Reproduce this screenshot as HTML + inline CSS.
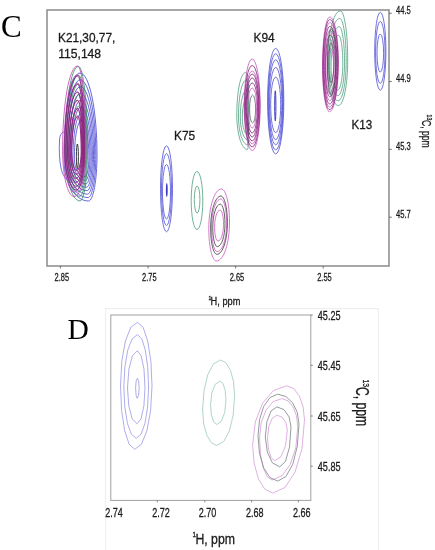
<!DOCTYPE html>
<html><head><meta charset="utf-8"><style>
html,body{margin:0;padding:0;background:#fff;}
body{width:435px;height:550px;overflow:hidden;font-family:"Liberation Sans",sans-serif;}
svg{display:block;will-change:transform;}
</style></head><body>
<svg width="435" height="550" viewBox="0 0 435 550">
<rect width="435" height="550" fill="#fff"/>
<rect x="47" y="10" width="342" height="256" fill="none" stroke="#8a8a8a" stroke-width="1.5"/>
<line x1="60.4" y1="266" x2="60.4" y2="268.5" stroke="#555" stroke-width="0.8"/>
<line x1="148.1" y1="266" x2="148.1" y2="268.5" stroke="#555" stroke-width="0.8"/>
<line x1="235.6" y1="266" x2="235.6" y2="268.5" stroke="#555" stroke-width="0.8"/>
<line x1="323.2" y1="266" x2="323.2" y2="268.5" stroke="#555" stroke-width="0.8"/>
<line x1="389" y1="13.3" x2="391.8" y2="13.3" stroke="#555" stroke-width="0.8"/>
<line x1="389" y1="81.55" x2="391.8" y2="81.55" stroke="#555" stroke-width="0.8"/>
<line x1="389" y1="149.3" x2="391.8" y2="149.3" stroke="#555" stroke-width="0.8"/>
<line x1="389" y1="217.2" x2="391.8" y2="217.2" stroke="#555" stroke-width="0.8"/>
<rect x="105.5" y="308.6" width="273" height="250" fill="none" stroke="#efefef" stroke-width="1.2"/>
<rect x="110.8" y="315" width="200" height="185.4" fill="none" stroke="#a0a0a0" stroke-width="1.0"/>
<line x1="157.3" y1="500.4" x2="157.3" y2="502.3" stroke="#666" stroke-width="0.8"/>
<line x1="204.8" y1="500.4" x2="204.8" y2="502.3" stroke="#666" stroke-width="0.8"/>
<line x1="251.6" y1="500.4" x2="251.6" y2="502.3" stroke="#666" stroke-width="0.8"/>
<line x1="298.4" y1="500.4" x2="298.4" y2="502.3" stroke="#666" stroke-width="0.8"/>
<line x1="310.8" y1="315" x2="312.8" y2="315" stroke="#666" stroke-width="0.8"/>
<line x1="310.8" y1="365.3" x2="312.8" y2="365.3" stroke="#666" stroke-width="0.8"/>
<line x1="310.8" y1="416" x2="312.8" y2="416" stroke="#666" stroke-width="0.8"/>
<line x1="310.8" y1="466.2" x2="312.8" y2="466.2" stroke="#666" stroke-width="0.8"/>
<g fill="none">
<path d="M160.50 188.80A6.00 43.00 0 0 1 172.50 188.80A6.00 43.00 0 0 1 160.50 188.80Z" stroke="#4d4dd6" stroke-width="0.8"/>
<path d="M161.50 189.55A5.00 35.95 0 0 1 171.50 189.55A5.00 35.95 0 0 1 161.50 189.55Z" stroke="#4d4dd6" stroke-width="0.8"/>
<path d="M162.50 191.75A4.00 27.25 0 0 1 170.50 191.75A4.00 27.25 0 0 1 162.50 191.75Z" stroke="#4d4dd6" stroke-width="0.8"/>
<path d="M166.45 190.00A0.35 6.40 0 0 1 167.15 190.00A0.35 6.40 0 0 1 166.45 190.00Z" stroke="#3a3ac8" stroke-width="1.1"/>
<path d="M191.20 200.50A5.80 29.00 0 0 1 202.80 200.50A5.80 29.00 0 0 1 191.20 200.50Z" stroke="#4c9f7e" stroke-width="0.8"/>
<path d="M194.30 199.50A2.80 13.50 0 0 1 199.90 199.50A2.80 13.50 0 0 1 194.30 199.50Z" stroke="#4c9f7e" stroke-width="0.8"/>
<path d="M221.50 189.00C225.92 189.00 229.50 203.77 229.50 222.00C229.50 243.54 223.68 261.00 216.50 261.00C212.25 261.00 208.80 246.67 208.80 229.00C208.80 206.91 214.49 189.00 221.50 189.00Z" stroke="#c955c0" stroke-width="0.8"/>
<path d="M220.82 198.99C224.05 198.99 226.66 209.78 226.66 223.08C226.66 238.80 222.42 251.55 217.18 251.55C214.07 251.55 211.55 241.09 211.55 228.19C211.55 212.06 215.70 198.99 220.82 198.99Z" stroke="#c955c0" stroke-width="0.8"/>
<path d="M220.07 210.09C221.97 210.09 223.51 216.44 223.51 224.28C223.51 233.54 221.01 241.05 217.93 241.05C216.10 241.05 214.61 234.89 214.61 227.29C214.61 217.79 217.06 210.09 220.07 210.09Z" stroke="#c955c0" stroke-width="0.8"/>
<path d="M220.93 196.03C224.51 196.03 227.41 208.00 227.41 222.76C227.41 240.21 222.70 254.35 216.88 254.35C213.44 254.35 210.64 242.75 210.64 228.43C210.64 210.54 215.25 196.03 220.93 196.03Z" stroke="#3a3a3a" stroke-width="0.8"/>
<path d="M220.27 204.17C222.88 204.17 224.99 212.89 224.99 223.64C224.99 236.35 221.56 246.65 217.32 246.65C214.81 246.65 212.78 238.20 212.78 227.77C212.78 214.74 216.13 204.17 220.27 204.17Z" stroke="#3a3a3a" stroke-width="0.8"/>
<path d="M267.60 101.15A8.10 52.85 0 0 1 283.80 101.15A8.10 52.85 0 0 1 267.60 101.15Z" stroke="#4d4dd6" stroke-width="0.8"/>
<path d="M268.20 101.80A7.50 48.10 0 0 1 283.20 101.80A7.50 48.10 0 0 1 268.20 101.80Z" stroke="#4d4dd6" stroke-width="0.8"/>
<path d="M268.80 102.30A6.90 42.50 0 0 1 282.60 102.30A6.90 42.50 0 0 1 268.80 102.30Z" stroke="#4d4dd6" stroke-width="0.8"/>
<path d="M269.60 103.55A6.10 36.15 0 0 1 281.80 103.55A6.10 36.15 0 0 1 269.60 103.55Z" stroke="#4d4dd6" stroke-width="0.8"/>
<path d="M270.70 104.85A5.00 27.75 0 0 1 280.70 104.85A5.00 27.75 0 0 1 270.70 104.85Z" stroke="#4d4dd6" stroke-width="0.8"/>
<path d="M274.70 105.85A0.60 15.05 0 0 1 275.90 105.85A0.60 15.05 0 0 1 274.70 105.85Z" stroke="#3a3ac8" stroke-width="1.0"/>
<path d="M245.50 72.50C247.43 72.50 249.00 87.05 249.00 105.00C249.00 129.58 248.33 149.50 247.50 149.50C241.59 149.50 236.80 134.05 236.80 115.00C236.80 91.53 240.69 72.50 245.50 72.50Z" stroke="#4c9f7e" stroke-width="0.8"/>
<path d="M246.30 80.00C247.52 80.00 248.50 92.09 248.50 107.00C248.50 127.99 248.19 145.00 247.80 145.00C242.66 145.00 238.50 132.02 238.50 116.00C238.50 96.12 241.99 80.00 246.30 80.00Z" stroke="#4c9f7e" stroke-width="0.8"/>
<path d="M247.00 89.50C247.55 89.50 248.00 98.23 248.00 109.00C248.00 126.12 248.00 140.00 248.00 140.00C243.75 140.00 240.30 129.70 240.30 117.00C240.30 101.81 243.30 89.50 247.00 89.50Z" stroke="#4c9f7e" stroke-width="0.8"/>
<path d="M247.50 97.00C247.67 97.00 247.80 103.27 247.80 111.00C247.80 124.26 247.98 135.00 248.20 135.00C244.94 135.00 242.30 127.39 242.30 118.00C242.30 106.40 244.63 97.00 247.50 97.00Z" stroke="#4c9f7e" stroke-width="0.8"/>
<path d="M244.20 106.00A8.00 47.00 0 0 1 260.20 106.00A8.00 44.50 0 0 1 244.20 106.00Z" stroke="#c955c0" stroke-width="0.8"/>
<path d="M244.60 106.00A7.60 40.50 0 0 1 259.80 106.00A7.60 41.00 0 0 1 244.60 106.00Z" stroke="#801d72" stroke-width="0.8"/>
<path d="M245.10 106.00A7.10 35.00 0 0 1 259.30 106.00A7.10 38.00 0 0 1 245.10 106.00Z" stroke="#c955c0" stroke-width="0.8"/>
<path d="M245.60 106.00A6.60 32.00 0 0 1 258.80 106.00A6.60 35.00 0 0 1 245.60 106.00Z" stroke="#801d72" stroke-width="0.8"/>
<path d="M246.20 106.00A6.00 28.00 0 0 1 258.20 106.00A6.00 31.00 0 0 1 246.20 106.00Z" stroke="#801d72" stroke-width="0.8"/>
<path d="M246.90 106.00A5.30 23.00 0 0 1 257.50 106.00A5.30 27.00 0 0 1 246.90 106.00Z" stroke="#801d72" stroke-width="0.8"/>
<path d="M247.70 106.00A4.50 18.00 0 0 1 256.70 106.00A4.50 22.00 0 0 1 247.70 106.00Z" stroke="#c955c0" stroke-width="0.8"/>
<path d="M249.60 109.00A3.00 14.00 0 0 1 255.60 109.00A3.00 14.00 0 0 1 249.60 109.00Z" stroke="#4a4f55" stroke-width="0.7"/>
<path d="M374.70 51.25A5.60 39.05 0 0 1 385.90 51.25A5.60 39.05 0 0 1 374.70 51.25Z" stroke="#4d4dd6" stroke-width="0.8"/>
<path d="M375.60 52.40A4.70 31.00 0 0 1 385.00 52.40A4.70 31.00 0 0 1 375.60 52.40Z" stroke="#4d4dd6" stroke-width="0.8"/>
<path d="M377.00 53.10A3.30 19.10 0 0 1 383.60 53.10A3.30 19.10 0 0 1 377.00 53.10Z" stroke="#4d4dd6" stroke-width="0.8"/>
<path d="M340.30 10.90C344.39 10.90 347.70 32.88 347.70 60.00C347.70 85.13 343.58 105.50 338.50 105.50C332.42 105.50 327.50 87.82 327.50 66.00C327.50 35.57 333.23 10.90 340.30 10.90Z" stroke="#4c9f7e" stroke-width="0.8"/>
<path d="M339.74 18.45C343.30 18.45 346.18 37.58 346.18 61.17C346.18 83.03 342.60 100.75 338.18 100.75C332.89 100.75 328.61 85.37 328.61 66.39C328.61 39.91 333.59 18.45 339.74 18.45Z" stroke="#4c9f7e" stroke-width="0.8"/>
<path d="M339.14 26.59C342.12 26.59 344.54 42.63 344.54 62.43C344.54 80.77 341.53 95.64 337.82 95.64C333.39 95.64 329.80 82.74 329.80 66.81C329.80 44.59 333.98 26.59 339.14 26.59Z" stroke="#4c9f7e" stroke-width="0.8"/>
<path d="M338.49 35.30C340.86 35.30 342.79 48.05 342.79 63.78C342.79 78.36 340.40 90.17 337.45 90.17C333.93 90.17 331.07 79.91 331.07 67.26C331.07 49.61 334.39 35.30 338.49 35.30Z" stroke="#4c9f7e" stroke-width="0.8"/>
<path d="M329.80 17.00C334.55 17.00 338.40 37.15 338.40 62.00C338.40 89.45 334.42 111.70 329.50 111.70C325.63 111.70 322.50 91.24 322.50 66.00C322.50 38.94 325.77 17.00 329.80 17.00Z" stroke="#c955c0" stroke-width="0.8"/>
<path d="M329.88 22.72C334.10 22.72 337.53 40.65 337.53 62.77C337.53 87.20 333.98 107.00 329.61 107.00C326.17 107.00 323.38 88.79 323.38 66.33C323.38 42.24 326.29 22.72 329.88 22.72Z" stroke="#c955c0" stroke-width="0.8"/>
<path d="M329.98 30.52C333.50 30.52 336.35 45.43 336.35 63.82C336.35 84.13 333.40 100.60 329.76 100.60C326.90 100.60 324.58 85.46 324.58 66.78C324.58 46.75 327.00 30.52 329.98 30.52Z" stroke="#c955c0" stroke-width="0.8"/>
<path d="M330.10 39.36C332.81 39.36 335.00 50.84 335.00 65.01C335.00 80.66 332.73 93.34 329.93 93.34C327.73 93.34 325.94 81.68 325.94 67.29C325.94 51.86 327.80 39.36 330.10 39.36Z" stroke="#c955c0" stroke-width="0.8"/>
<path d="M330.22 48.20C332.12 48.20 333.66 56.26 333.66 66.20C333.66 77.18 332.07 86.08 330.10 86.08C328.55 86.08 327.30 77.90 327.30 67.80C327.30 56.97 328.61 48.20 330.22 48.20Z" stroke="#c955c0" stroke-width="0.8"/>
<path d="M329.84 19.60C334.35 19.60 338.00 38.74 338.00 62.35C338.00 88.43 334.22 109.56 329.55 109.56C325.88 109.56 322.90 90.13 322.90 66.15C322.90 40.44 326.00 19.60 329.84 19.60Z" stroke="#801d72" stroke-width="0.8"/>
<path d="M329.93 26.36C333.82 26.36 336.98 42.88 336.98 63.26C336.98 85.77 333.71 104.01 329.68 104.01C326.51 104.01 323.94 87.24 323.94 66.54C323.94 44.35 326.62 26.36 329.93 26.36Z" stroke="#801d72" stroke-width="0.8"/>
<path d="M330.05 35.20C333.13 35.20 335.63 48.30 335.63 64.45C335.63 82.29 333.05 96.75 329.85 96.75C327.34 96.75 325.30 83.46 325.30 67.05C325.30 49.46 327.42 35.20 330.05 35.20Z" stroke="#801d72" stroke-width="0.8"/>
<path d="M330.80 29.00C333.67 29.00 336.00 42.88 336.00 60.00C336.00 79.33 333.54 95.00 330.50 95.00C328.84 95.00 327.50 80.23 327.50 62.00C327.50 43.77 328.98 29.00 330.80 29.00Z" stroke="#3b4a48" stroke-width="0.7"/>
<path d="M330.88 43.00C332.60 43.00 334.00 51.33 334.00 61.60C334.00 73.20 332.52 82.60 330.70 82.60C329.71 82.60 328.90 73.74 328.90 62.80C328.90 51.86 329.79 43.00 330.88 43.00Z" stroke="#3b4a48" stroke-width="0.7"/>
<path d="M65.4 131.5 C62 132 60 134 59.5 140 C59 150 59.3 160 61 168 C62.5 175 65 178 67 179.6" stroke="#4d4dd6" stroke-width="0.8" fill="none"/>
<path d="M80.00 73.00C89.39 73.00 97.00 109.71 97.00 155.00C97.00 180.41 93.19 201.00 88.50 201.00C74.97 201.00 64.00 182.64 64.00 160.00C64.00 111.95 71.16 73.00 80.00 73.00Z" stroke="#4040d0" stroke-width="0.8"/>
<path d="M80.20 79.80C88.84 79.80 95.84 113.57 95.84 155.24C95.84 178.61 92.34 197.56 88.02 197.56C75.57 197.56 65.48 180.67 65.48 159.84C65.48 115.63 72.07 79.80 80.20 79.80Z" stroke="#4040d0" stroke-width="0.8"/>
<path d="M80.40 86.60C88.29 86.60 94.68 117.44 94.68 155.48C94.68 176.82 91.48 194.12 87.54 194.12C76.17 194.12 66.96 178.70 66.96 159.68C66.96 119.32 72.98 86.60 80.40 86.60Z" stroke="#4040d0" stroke-width="0.8"/>
<path d="M80.60 93.40C87.74 93.40 93.52 121.30 93.52 155.72C93.52 175.03 90.63 190.68 87.06 190.68C76.78 190.68 68.44 176.73 68.44 159.52C68.44 123.00 73.88 93.40 80.60 93.40Z" stroke="#4040d0" stroke-width="0.8"/>
<path d="M80.80 100.20C87.18 100.20 92.36 125.16 92.36 155.96C92.36 173.24 89.77 187.24 86.58 187.24C77.38 187.24 69.92 174.76 69.92 159.36C69.92 126.69 74.79 100.20 80.80 100.20Z" stroke="#4040d0" stroke-width="0.8"/>
<path d="M81.00 107.00C86.63 107.00 91.20 129.03 91.20 156.20C91.20 171.44 88.92 183.80 86.10 183.80C77.98 183.80 71.40 172.79 71.40 159.20C71.40 130.37 75.70 107.00 81.00 107.00Z" stroke="#4040d0" stroke-width="0.8"/>
<path d="M81.20 113.80C86.08 113.80 90.04 132.89 90.04 156.44C90.04 169.65 88.06 180.36 85.62 180.36C78.58 180.36 72.88 170.82 72.88 159.04C72.88 134.05 76.60 113.80 81.20 113.80Z" stroke="#4040d0" stroke-width="0.8"/>
<path d="M81.40 120.60C85.53 120.60 88.88 136.75 88.88 156.68C88.88 167.86 87.21 176.92 85.14 176.92C79.19 176.92 74.36 168.84 74.36 158.88C74.36 137.74 77.51 120.60 81.40 120.60Z" stroke="#4040d0" stroke-width="0.8"/>
<path d="M78.40 66.40C83.43 66.40 87.50 103.83 87.50 150.00C87.50 178.11 84.14 200.90 80.00 200.90C71.72 200.90 65.00 178.11 65.00 150.00C65.00 103.83 71.00 66.40 78.40 66.40Z" stroke="#2f8a60" stroke-width="0.8"/>
<path d="M78.46 75.26C82.98 75.26 86.65 108.94 86.65 150.50C86.65 175.80 83.63 196.31 79.90 196.31C72.44 196.31 66.40 175.80 66.40 150.50C66.40 108.94 71.80 75.26 78.46 75.26Z" stroke="#2f8a60" stroke-width="0.8"/>
<path d="M78.52 84.12C82.54 84.12 85.80 114.06 85.80 151.00C85.80 173.49 83.11 191.72 79.80 191.72C73.17 191.72 67.80 173.49 67.80 151.00C67.80 114.06 72.60 84.12 78.52 84.12Z" stroke="#2f8a60" stroke-width="0.8"/>
<path d="M78.59 94.75C82.01 94.75 84.78 120.20 84.78 151.60C84.78 170.72 82.50 186.21 79.68 186.21C74.05 186.21 69.48 170.72 69.48 151.60C69.48 120.20 73.56 94.75 78.59 94.75Z" stroke="#2f8a60" stroke-width="0.8"/>
<path d="M78.67 106.27C81.43 106.27 83.67 126.86 83.67 152.25C83.67 167.71 81.83 180.25 79.55 180.25C74.99 180.25 71.30 167.71 71.30 152.25C71.30 126.86 74.60 106.27 78.67 106.27Z" stroke="#2f8a60" stroke-width="0.8"/>
<path d="M77.50 66.00C82.19 66.00 86.00 103.61 86.00 150.00C86.00 175.68 80.63 196.50 74.00 196.50C67.70 196.50 62.60 175.68 62.60 150.00C62.60 103.61 69.27 66.00 77.50 66.00Z" stroke="#c040b5" stroke-width="0.8"/>
<path d="M77.55 74.60C81.78 74.60 85.20 108.45 85.20 150.20C85.20 173.31 80.36 192.05 74.40 192.05C68.73 192.05 64.14 173.31 64.14 150.20C64.14 108.45 70.14 74.60 77.55 74.60Z" stroke="#c040b5" stroke-width="0.8"/>
<path d="M77.60 83.20C81.36 83.20 84.40 113.29 84.40 150.40C84.40 170.95 80.10 187.60 74.80 187.60C69.76 187.60 65.68 170.95 65.68 150.40C65.68 113.29 71.02 83.20 77.60 83.20Z" stroke="#c040b5" stroke-width="0.8"/>
<path d="M77.65 91.80C80.94 91.80 83.60 118.12 83.60 150.60C83.60 168.58 79.84 183.15 75.20 183.15C70.79 183.15 67.22 168.58 67.22 150.60C67.22 118.12 71.89 91.80 77.65 91.80Z" stroke="#c040b5" stroke-width="0.8"/>
<path d="M77.70 100.40C80.52 100.40 82.80 122.96 82.80 150.80C82.80 166.21 79.58 178.70 75.60 178.70C71.82 178.70 68.76 166.21 68.76 150.80C68.76 122.96 72.76 100.40 77.70 100.40Z" stroke="#c040b5" stroke-width="0.8"/>
<path d="M77.75 109.00C80.10 109.00 82.00 127.80 82.00 151.00C82.00 163.84 79.31 174.25 76.00 174.25C72.85 174.25 70.30 163.84 70.30 151.00C70.30 127.80 73.64 109.00 77.75 109.00Z" stroke="#c040b5" stroke-width="0.8"/>
<path d="M77.79 115.88C79.76 115.88 81.36 131.67 81.36 151.16C81.36 161.95 79.10 170.69 76.32 170.69C73.68 170.69 71.53 161.95 71.53 151.16C71.53 131.67 74.33 115.88 77.79 115.88Z" stroke="#c040b5" stroke-width="0.8"/>
<path d="M77.53 76.05C81.46 76.05 84.65 109.22 84.65 150.15C84.65 172.19 80.82 190.05 76.10 190.05C69.80 190.05 64.70 172.19 64.70 150.15C64.70 109.22 70.44 76.05 77.53 76.05Z" stroke="#801d72" stroke-width="0.8"/>
<path d="M77.58 84.15C81.10 84.15 83.95 113.83 83.95 150.45C83.95 170.17 80.53 186.15 76.30 186.15C70.67 186.15 66.10 170.17 66.10 150.45C66.10 113.83 71.24 84.15 77.58 84.15Z" stroke="#801d72" stroke-width="0.8"/>
<path d="M77.62 92.25C80.73 92.25 83.25 118.44 83.25 150.75C83.25 168.15 80.23 182.25 76.50 182.25C71.53 182.25 67.50 168.15 67.50 150.75C67.50 118.44 72.03 92.25 77.62 92.25Z" stroke="#801d72" stroke-width="0.8"/>
<path d="M77.67 100.35C80.37 100.35 82.55 123.05 82.55 151.05C82.55 166.13 79.93 178.35 76.70 178.35C72.39 178.35 68.90 166.13 68.90 151.05C68.90 123.05 72.83 100.35 77.67 100.35Z" stroke="#801d72" stroke-width="0.8"/>
<path d="M77.72 108.45C80.00 108.45 81.85 127.66 81.85 151.35C81.85 164.11 79.63 174.45 76.90 174.45C73.25 174.45 70.30 164.11 70.30 151.35C70.30 127.66 73.62 108.45 77.72 108.45Z" stroke="#801d72" stroke-width="0.8"/>
<path d="M77.78 116.55C79.64 116.55 81.15 132.26 81.15 151.65C81.15 162.09 79.34 170.55 77.10 170.55C74.12 170.55 71.70 162.09 71.70 151.65C71.70 132.26 74.42 116.55 77.78 116.55Z" stroke="#801d72" stroke-width="0.8"/>
<path d="M76.40 156.35A1.00 12.35 0 0 1 78.40 156.35A1.00 12.35 0 0 1 76.40 156.35Z" stroke="#222" stroke-width="0.9"/>
<polygon points="137.4,322.3 143.1,327.3 147.7,341.0 150.9,361.2 152.0,386.0 150.6,410.6 146.9,430.8 141.4,444.3 134.7,449.3 129.2,444.3 124.7,430.8 121.6,410.6 120.5,386.0 121.8,361.2 125.4,341.0 130.8,327.3" stroke="#a09ee6" stroke-width="0.85" fill="none" stroke-linejoin="round"/>
<polygon points="137.4,334.7 141.8,338.8 145.3,350.0 147.7,366.6 148.6,387.0 147.6,407.0 145.0,423.3 141.0,434.3 136.2,438.3 131.4,434.3 127.4,423.3 124.8,407.0 123.8,387.0 124.9,366.6 127.8,350.0 132.1,338.8" stroke="#a09ee6" stroke-width="0.85" fill="none" stroke-linejoin="round"/>
<polygon points="137.4,350.7 141.2,355.8 144.0,369.2 145.0,388.0 143.9,406.0 141.0,418.8 137.0,423.7 132.2,418.8 128.8,406.0 127.5,388.0 128.9,369.2 132.4,355.8" stroke="#a09ee6" stroke-width="0.85" fill="none" stroke-linejoin="round"/>
<polygon points="137.4,378.3 138.7,381.1 139.2,388.0 138.6,395.3 137.2,398.3 136.1,395.3 135.6,388.0 136.1,381.1" stroke="#a09ee6" stroke-width="0.85" fill="none" stroke-linejoin="round"/>
<polygon points="220.5,360.0 226.0,362.8 230.5,370.4 233.5,381.7 234.6,395.5 233.2,415.0 229.4,430.9 223.7,441.6 216.8,445.5 211.3,442.7 206.8,435.1 203.7,423.8 202.6,410.0 204.0,390.5 207.8,374.6 213.5,363.9" stroke="#a3cdbd" stroke-width="0.85" fill="none" stroke-linejoin="round"/>
<polygon points="220.0,381.0 223.0,383.6 225.2,390.4 226.0,400.0 224.7,412.4 221.4,421.2 216.8,424.5 213.6,421.8 211.4,414.8 210.5,405.0 211.8,392.9 215.2,384.3" stroke="#a3cdbd" stroke-width="0.85" fill="none" stroke-linejoin="round"/>
<polygon points="286.6,385.8 293.6,388.5 299.3,395.8 303.1,406.7 304.5,420.0 302.0,448.5 295.2,471.7 285.1,487.4 272.8,493.1 264.9,489.3 258.5,479.0 254.2,463.7 252.6,445.0 255.3,422.0 262.6,403.1 273.4,390.5" stroke="#d9a2dd" stroke-width="0.85" fill="none" stroke-linejoin="round"/>
<polygon points="281.7,398.6 288.0,400.8 293.1,406.9 296.5,415.9 297.8,427.0 295.8,447.6 290.2,464.5 282.0,475.8 272.0,480.0 267.1,476.7 263.2,467.7 260.5,454.3 259.5,438.0 261.2,422.7 266.0,410.1 273.1,401.7" stroke="#d9a2dd" stroke-width="0.85" fill="none" stroke-linejoin="round"/>
<polygon points="277.6,394.2 285.9,396.5 292.7,402.9 297.3,412.4 299.0,424.0 297.3,446.2 292.7,464.4 285.9,476.6 277.6,481.1 270.0,477.6 263.7,467.9 259.5,453.6 258.0,436.0 259.5,419.7 263.7,406.4 270.0,397.5" stroke="#858a8a" stroke-width="0.85" fill="none" stroke-linejoin="round"/>
<polygon points="276.9,406.9 284.0,409.6 289.1,416.9 291.0,427.0 289.5,447.1 285.4,461.5 279.7,466.9 272.4,462.8 267.3,452.1 265.3,437.0 266.9,421.8 271.0,411.0" stroke="#858a8a" stroke-width="0.85" fill="none" stroke-linejoin="round"/>
<polygon points="276.9,415.2 282.1,417.2 285.9,422.5 287.3,430.0 285.6,445.5 281.1,456.5 274.8,460.7 271.1,457.6 268.5,449.5 267.5,438.0 268.8,426.5 272.2,418.3" stroke="#d9a2dd" stroke-width="0.85" fill="none" stroke-linejoin="round"/>
</g>
<text transform="translate(1.0,36.9) scale(1.0,1)" font-family="Liberation Serif" font-size="31" fill="#000">C</text>
<text transform="translate(67.5,339.4) scale(1.0,1)" font-family="Liberation Serif" font-size="29.5" fill="#000">D</text>
<text transform="translate(58.0,41.6) scale(0.885,1)" font-family="Liberation Sans" font-size="13.4" fill="#1a1a1a" stroke="#1a1a1a" stroke-width="0.3">K21,30,77,</text>
<text transform="translate(58.2,57.5) scale(0.905,1)" font-family="Liberation Sans" font-size="13.4" fill="#1a1a1a" stroke="#1a1a1a" stroke-width="0.3">115,148</text>
<text transform="translate(253.5,41.7) scale(0.89,1)" font-family="Liberation Sans" font-size="13.4" fill="#1a1a1a" stroke="#1a1a1a" stroke-width="0.3">K94</text>
<text transform="translate(174,139.6) scale(0.89,1)" font-family="Liberation Sans" font-size="13.4" fill="#1a1a1a" stroke="#1a1a1a" stroke-width="0.3">K75</text>
<text transform="translate(351.4,129.0) scale(0.87,1)" font-family="Liberation Sans" font-size="13.4" fill="#1a1a1a" stroke="#1a1a1a" stroke-width="0.3">K13</text>
<text transform="translate(54.5,280.6) scale(0.68,1)" font-family="Liberation Sans" font-size="11.0" fill="#1a1a1a" stroke="#1a1a1a" stroke-width="0.3">2.85</text>
<text transform="translate(142.0,280.6) scale(0.68,1)" font-family="Liberation Sans" font-size="11.0" fill="#1a1a1a" stroke="#1a1a1a" stroke-width="0.3">2.75</text>
<text transform="translate(229.7,280.6) scale(0.68,1)" font-family="Liberation Sans" font-size="11.0" fill="#1a1a1a" stroke="#1a1a1a" stroke-width="0.3">2.65</text>
<text transform="translate(317.2,280.6) scale(0.68,1)" font-family="Liberation Sans" font-size="11.0" fill="#1a1a1a" stroke="#1a1a1a" stroke-width="0.3">2.55</text>
<text transform="translate(396.0,14) scale(0.68,1)" font-family="Liberation Sans" font-size="11.2" fill="#1a1a1a" stroke="#1a1a1a" stroke-width="0.3">44.5</text>
<text transform="translate(396.0,82) scale(0.68,1)" font-family="Liberation Sans" font-size="11.2" fill="#1a1a1a" stroke="#1a1a1a" stroke-width="0.3">44.9</text>
<text transform="translate(396.0,149.7) scale(0.68,1)" font-family="Liberation Sans" font-size="11.2" fill="#1a1a1a" stroke="#1a1a1a" stroke-width="0.3">45.3</text>
<text transform="translate(396.0,217.7) scale(0.68,1)" font-family="Liberation Sans" font-size="11.2" fill="#1a1a1a" stroke="#1a1a1a" stroke-width="0.3">45.7</text>
<text transform="translate(208.6,300.1) scale(0.85,1)" font-family="Liberation Sans" font-size="6.0" fill="#1a1a1a" stroke="#1a1a1a" stroke-width="0.3">1</text>
<text transform="translate(210.6,305.2) scale(0.856,1)" font-family="Liberation Sans" font-size="10.8" fill="#1a1a1a" stroke="#1a1a1a" stroke-width="0.3">H, ppm</text>
<text transform="translate(426.9,114.6) rotate(90) scale(0.8,1)" font-family="Liberation Sans" font-size="6.4" fill="#1a1a1a" stroke="#1a1a1a" stroke-width="0.3">13</text>
<text transform="translate(421.6,120.0) rotate(90) scale(0.665,1)" font-family="Liberation Sans" font-size="13.0" fill="#1a1a1a" stroke="#1a1a1a" stroke-width="0.3">C, ppm</text>
<text transform="translate(105.2,516.7) scale(0.67,1)" font-family="Liberation Sans" font-size="13.5" fill="#1a1a1a" stroke="#1a1a1a" stroke-width="0.3">2.74</text>
<text transform="translate(152.3,516.7) scale(0.67,1)" font-family="Liberation Sans" font-size="13.5" fill="#1a1a1a" stroke="#1a1a1a" stroke-width="0.3">2.72</text>
<text transform="translate(198.8,516.7) scale(0.67,1)" font-family="Liberation Sans" font-size="13.5" fill="#1a1a1a" stroke="#1a1a1a" stroke-width="0.3">2.70</text>
<text transform="translate(246.0,516.7) scale(0.67,1)" font-family="Liberation Sans" font-size="13.5" fill="#1a1a1a" stroke="#1a1a1a" stroke-width="0.3">2.68</text>
<text transform="translate(293.0,516.7) scale(0.67,1)" font-family="Liberation Sans" font-size="13.5" fill="#1a1a1a" stroke="#1a1a1a" stroke-width="0.3">2.66</text>
<text transform="translate(317.8,319.7) scale(0.7,1)" font-family="Liberation Sans" font-size="13" fill="#1a1a1a" stroke="#1a1a1a" stroke-width="0.3">45.25</text>
<text transform="translate(317.8,369.9) scale(0.7,1)" font-family="Liberation Sans" font-size="13" fill="#1a1a1a" stroke="#1a1a1a" stroke-width="0.3">45.45</text>
<text transform="translate(317.8,420.6) scale(0.7,1)" font-family="Liberation Sans" font-size="13" fill="#1a1a1a" stroke="#1a1a1a" stroke-width="0.3">45.65</text>
<text transform="translate(317.8,470.6) scale(0.7,1)" font-family="Liberation Sans" font-size="13" fill="#1a1a1a" stroke="#1a1a1a" stroke-width="0.3">45.85</text>
<text transform="translate(192.6,537.0) scale(0.85,1)" font-family="Liberation Sans" font-size="7.4" fill="#1a1a1a" stroke="#1a1a1a" stroke-width="0.3">1</text>
<text transform="translate(195.4,544.3) scale(0.837,1)" font-family="Liberation Sans" font-size="14.7" fill="#1a1a1a" stroke="#1a1a1a" stroke-width="0.3">H, ppm</text>
<text transform="translate(362.9,379.6) rotate(90) scale(0.78,1)" font-family="Liberation Sans" font-size="8.6" fill="#1a1a1a" stroke="#1a1a1a" stroke-width="0.3">13</text>
<text transform="translate(356.2,386.9) rotate(90) scale(0.66,1)" font-family="Liberation Sans" font-size="18.5" fill="#1a1a1a" stroke="#1a1a1a" stroke-width="0.3">C, ppm</text>
</svg>
</body></html>
